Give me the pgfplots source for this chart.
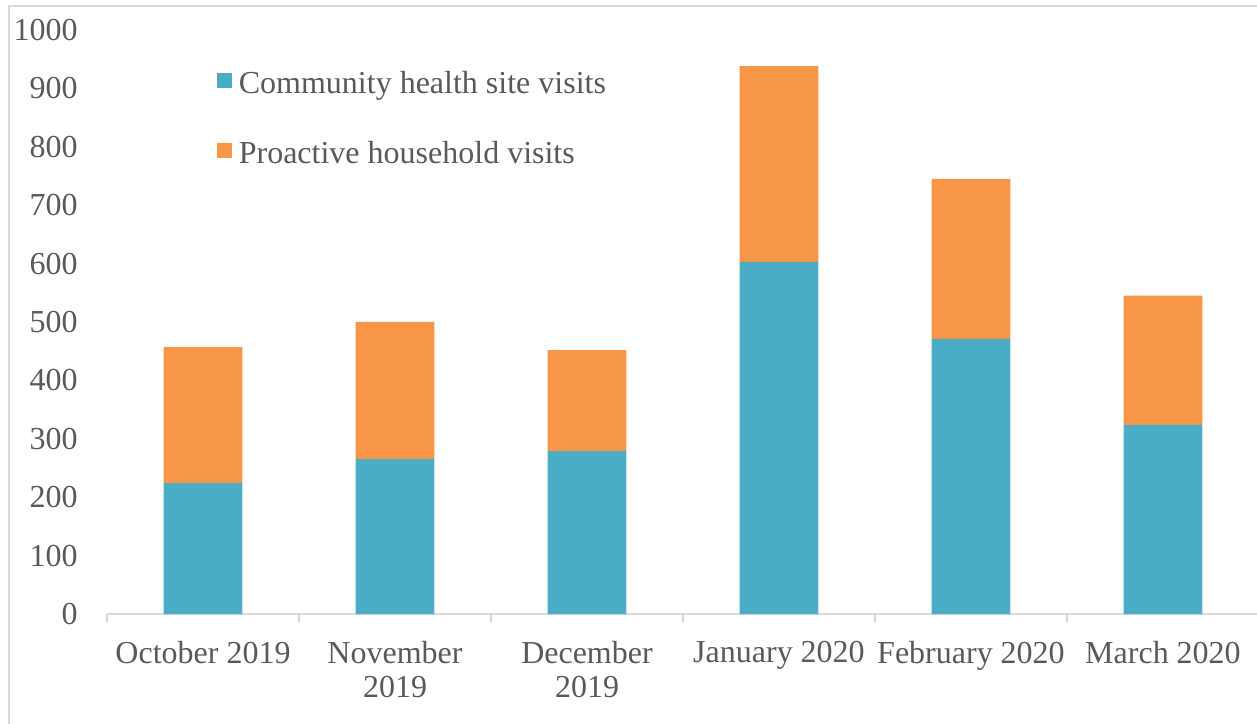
\documentclass[border=0pt]{standalone}
\usepackage{fontspec}
\setmainfont{Liberation Serif}
\usepackage{pgfplots}
\pgfplotsset{compat=1.18}
\definecolor{cblue}{HTML}{4BACC6}
\definecolor{corange}{HTML}{F79646}
\definecolor{txt}{HTML}{595959}
\definecolor{axgray}{HTML}{D9D9D9}
\begin{document}
\begin{tikzpicture}
\useasboundingbox (0,0) rectangle (628.5pt,361.5pt);
\draw[axgray, line width=1pt] (4.5pt,-20pt) rectangle (660pt,358.5pt);
\begin{axis}[
  at={(53.5pt,54.5pt)}, anchor=south west,
  scale only axis, width=576pt, height=292pt,
  ybar stacked, bar width=0.41,
  xmin=-0.5, xmax=5.5, ymin=0, ymax=1000,
  xtick={0,...,5},
  xticklabels={October 2019, {November\\2019}, {December\\2019}, January 2020, February 2020, March 2020},
  minor xtick={-0.5,0.5,...,5.5},
  ytick={0,100,...,1000},
  axis x line*=bottom, axis y line*=left,
  y axis line style={draw=none},
  x axis line style={axgray, line width=1pt, -},
  major tick length=0pt, minor tick length=4pt,
  tick align=outside,
  minor tick style={axgray, line width=1pt},
  /pgf/number format/assume math mode=true,
  /pgf/number format/1000 sep={},
  ticklabel style={font=\fontsize{16}{17}\selectfont, text=txt},
  xticklabel style={align=center, anchor=north, inner sep=0pt, yshift=-13.5pt},
  yticklabel style={anchor=east, inner sep=0pt, xshift=-14.5pt},
  legend style={draw=none, fill=none, at={(0.095,0.930)}, anchor=north west,
    inner sep=0pt, row sep=20pt, column sep=3.5pt,
    font=\fontsize{16}{17}\selectfont, text=txt,
    nodes={inner sep=0pt, text height=11pt, text depth=4pt}},
  legend cell align=left,
  legend image code/.code={\fill[#1] (0pt,-1pt) rectangle (7.5pt,6.5pt);},
]
\addplot[fill=cblue, draw=none] coordinates {(0,224) (1,265) (2,279) (3,603) (4,471) (5,324)};
\addplot[fill=corange, draw=none] coordinates {(0,233) (1,235) (2,173) (3,335) (4,274) (5,221)};
\legend{Community health site visits, Proactive household visits}
\end{axis}
\end{tikzpicture}
\end{document}
